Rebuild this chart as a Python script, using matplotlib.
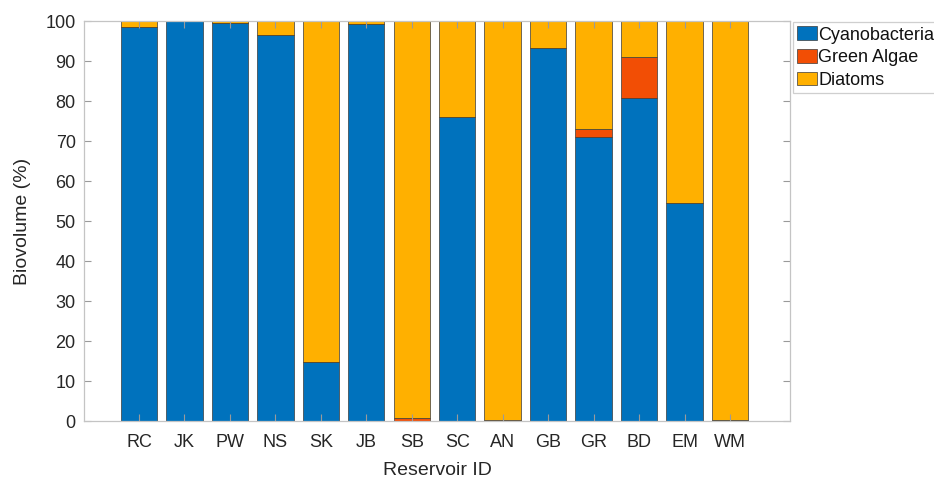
import matplotlib.pyplot as plt
import numpy as np

plt.rcParams['font.family'] = ['Liberation Sans', 'DejaVu Sans']

reservoirs = ['RC', 'JK', 'PW', 'NS', 'SK', 'JB', 'SB', 'SC', 'AN', 'GB', 'GR', 'BD', 'EM', 'WM']
cyanobacteria = [98.5, 100.0, 99.5, 96.5, 14.7, 99.2, 0.0, 76.0, 0.0, 93.2, 71.0, 80.7, 54.5, 0.3]
green_algae = [0.0, 0.0, 0.0, 0.0, 0.0, 0.0, 0.7, 0.0, 0.2, 0.0, 2.0, 10.3, 0.0, 0.0]
diatoms = [1.5, 0.0, 0.5, 3.5, 85.3, 0.8, 99.3, 24.0, 99.8, 6.8, 27.0, 9.0, 45.5, 99.7]

blue = '#0072bd'
orange = '#f24e05'
yellow = '#ffb000'
axis_grey = '#c4c4c4'
text_dark = '#262626'

fig = plt.figure(figsize=(9.34, 4.78), dpi=100)
ax = fig.add_axes([0.0899, 0.1192, 0.7559, 0.8368])

x = np.arange(1, len(reservoirs) + 1)
cy = np.array(cyanobacteria)
ga = np.array(green_algae)
di = np.array(diatoms)
edge = dict(edgecolor='#3a3a3a', linewidth=0.5, width=0.8)
ax.bar(x, cy, color=blue, label='Cyanobacteria', **edge)
ax.bar(x, ga, bottom=cy, color=orange, label='Green Algae', **edge)
ax.bar(x, di, bottom=cy + ga, color=yellow, label='Diatoms', **edge)

ax.set_xlim(-0.21, 15.32)
ax.set_ylim(0, 100)
ax.set_xticks(x)
ax.set_xticklabels(reservoirs)
ax.set_yticks(np.arange(0, 101, 10))
ax.tick_params(direction='in', length=5, width=0.8, color='#9a9a9a',
               labelcolor=text_dark, labelsize=13, top=True, right=True)
ax.tick_params(axis='x', pad=9)
ax.tick_params(axis='y', pad=6)
for s in ax.spines.values():
    s.set_color(axis_grey)
    s.set_linewidth(0.9)
    s.set_zorder(5)
ax.set_axisbelow(False)

ax.set_xlabel('Reservoir ID', fontsize=14, color=text_dark, labelpad=8)
ax.set_ylabel('Biovolume (%)', fontsize=14, color=text_dark, labelpad=10)

# legend sits just outside the right edge of the axes
leg = ax.legend(loc='upper left', bbox_to_anchor=(1.004, 0.998), fontsize=13,
                frameon=True, fancybox=False, borderpad=0.25, labelspacing=0.3,
                handlelength=1.1, handleheight=0.8, handletextpad=0.05, borderaxespad=0)
leg.get_frame().set_edgecolor(axis_grey)
leg.get_frame().set_linewidth(0.9)
for t in leg.get_texts():
    t.set_color('#111111')

fig.savefig('out.png', dpi=100)
